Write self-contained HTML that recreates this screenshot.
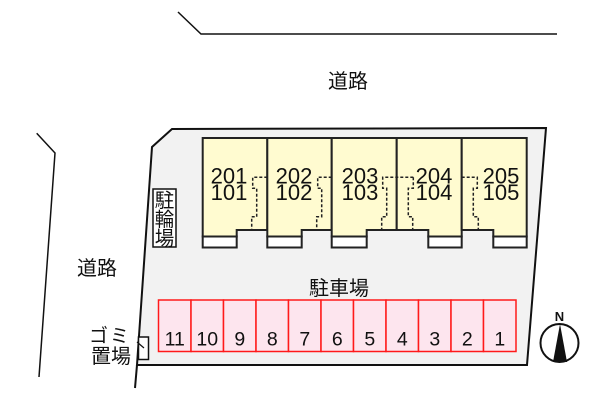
<!DOCTYPE html>
<html><head><meta charset="utf-8"><style>
html,body{margin:0;padding:0;background:#fff;}
svg{display:block;}
.jp{font-family:"Liberation Sans","Noto Sans CJK JP",sans-serif;}
.num{font-family:"Liberation Sans",sans-serif;}
</style></head><body>
<svg width="600" height="400" viewBox="0 0 600 400" xmlns="http://www.w3.org/2000/svg">
<rect width="600" height="400" fill="#fff"/>
<!-- roads -->
<polyline points="178,12 201,34 557,34" fill="none" stroke="#111" stroke-width="1.5"/>
<polyline points="36.7,133.3 55,153 39,377" fill="none" stroke="#111" stroke-width="1.5"/>
<text class="jp" x="348" y="88" font-size="20" text-anchor="middle" fill="#111">道路</text>
<text class="jp" x="97" y="275" font-size="20" text-anchor="middle" fill="#111">道路</text>
<!-- lot -->
<polygon points="172,129 546,128 527,365 137,365 152,147" fill="#f2f2f2" stroke="#111" stroke-width="2" stroke-linejoin="miter"/>
<line x1="137" y1="365" x2="135" y2="388" stroke="#111" stroke-width="2"/>
<!-- buildings -->
<g stroke="#222" stroke-width="2" stroke-linejoin="miter">
<path d="M202.7,138 H267.3 V230 H236.7 V236.5 H202.7 Z" fill="#fffbd0"/>
<rect x="202.7" y="236.5" width="34" height="11" fill="#fff"/>
<path d="M267.3,138 H331.7 V230 H301.7 V236.5 H267.3 Z" fill="#fffbd0"/>
<rect x="267.3" y="236.5" width="34.4" height="11" fill="#fff"/>
<path d="M331.7,138 H396.7 V230 H366.7 V236.5 H331.7 Z" fill="#fffbd0"/>
<rect x="331.7" y="236.5" width="35" height="11" fill="#fff"/>
<path d="M396.7,138 H461.7 V236.5 H428.3 V230 H396.7 Z" fill="#fffbd0"/>
<rect x="428.3" y="236.5" width="33.4" height="11" fill="#fff"/>
<path d="M461.7,138 H526.7 V236.5 H493.3 V230 H461.7 Z" fill="#fffbd0"/>
<rect x="493.3" y="236.5" width="33.4" height="11" fill="#fff"/>
</g>
<g fill="none" stroke="#222" stroke-width="1.5" stroke-dasharray="3 2">
<path d="M267.3,177.3 H252.7 V188.3 H256.7 V216.7 H251.7 V230"/>
<path d="M331.7,177.3 H317.7 V188.3 H321.7 V216.7 H316.7 V230"/>
<path d="M413.3,177.3 H382.7 V188.3 H386.7 V216.7 H381.7 V230"/>
<path d="M413.3,177.3 V188.3 H408.3 V216.7 H412.7 V230"/>
<path d="M461.7,177.3 H477.3 V188.3 H473.3 V216.7 H478.3 V230"/>
</g>
<g class="num" font-size="22" text-anchor="middle" fill="#111">
<text x="229" y="183.5">201</text><text x="229" y="200">101</text>
<text x="294" y="183.5">202</text><text x="294" y="200">102</text>
<text x="360" y="183.5">203</text><text x="360" y="200">103</text>
<text x="434" y="183.5">204</text><text x="434" y="200">104</text>
<text x="501" y="183.5">205</text><text x="501" y="200">105</text>
</g>
<!-- bicycle parking -->
<rect x="153" y="189" width="23" height="58" fill="#fff" stroke="#111" stroke-width="1.5"/>
<g class="jp" font-size="19.5" text-anchor="middle" fill="#111">
<text x="164.5" y="207">駐</text>
<text x="164.5" y="226">輪</text>
<text x="164.5" y="245">場</text>
</g>
<!-- parking -->
<text class="jp" x="339" y="295" font-size="20" text-anchor="middle" fill="#111">駐車場</text>
<g stroke="#ff1a1a" stroke-width="1.5" fill="#fde5ee">
<rect x="158.5" y="300" width="32.5" height="51.5"/>
<rect x="191" y="300" width="32.5" height="51.5"/>
<rect x="223.5" y="300" width="32.5" height="51.5"/>
<rect x="256" y="300" width="32.5" height="51.5"/>
<rect x="288.5" y="300" width="32.5" height="51.5"/>
<rect x="321" y="300" width="32.5" height="51.5"/>
<rect x="353.5" y="300" width="32.5" height="51.5"/>
<rect x="386" y="300" width="32.5" height="51.5"/>
<rect x="418.5" y="300" width="32.5" height="51.5"/>
<rect x="451" y="300" width="32.5" height="51.5"/>
<rect x="483.5" y="300" width="32.5" height="51.5"/>
</g>
<g class="num" font-size="19.5" text-anchor="middle" fill="#111">
<text x="174.75" y="345.5">11</text>
<text x="207.25" y="345.5">10</text>
<text x="239.75" y="345.5">9</text>
<text x="272.25" y="345.5">8</text>
<text x="304.75" y="345.5">7</text>
<text x="337.25" y="345.5">6</text>
<text x="369.75" y="345.5">5</text>
<text x="402.25" y="345.5">4</text>
<text x="434.75" y="345.5">3</text>
<text x="467.25" y="345.5">2</text>
<text x="499.75" y="345.5">1</text>
</g>
<!-- garbage -->
<text class="jp" x="110" y="342" font-size="19" letter-spacing="2" text-anchor="middle" fill="#111">ゴミ</text>
<text class="jp" x="111" y="363" font-size="20" text-anchor="middle" fill="#111">置場</text>
<rect x="138.5" y="337" width="10" height="22.5" fill="#fff" stroke="#111" stroke-width="1.5"/>
<line x1="137" y1="342" x2="144" y2="348" stroke="#111" stroke-width="1.2"/>
<!-- compass -->
<circle cx="559.5" cy="343" r="19" fill="#fff" stroke="#111" stroke-width="2"/>
<polygon points="560,324 553,362 567,362" fill="#111"/>
<text class="num" x="559.5" y="321" font-size="13" font-weight="bold" text-anchor="middle" fill="#111">N</text>
</svg>
</body></html>
